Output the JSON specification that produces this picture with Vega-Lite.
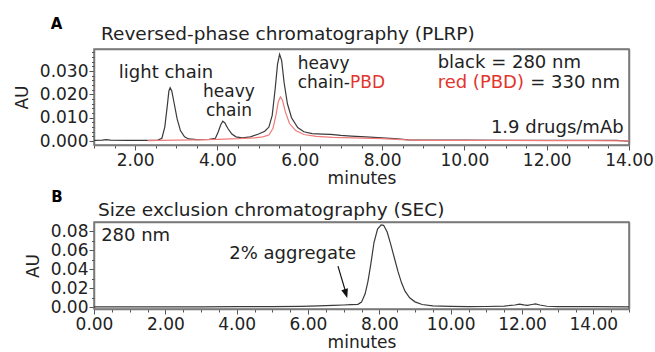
{
  "$schema": "https://vega.github.io/schema/vega-lite/v6.json",
  "padding": {"left": 12, "top": 16, "right": 0, "bottom": 0},
  "spacing": 2,
  "bounds": "full",
  "config": {
    "font": "DejaVu Sans",
    "view": {"stroke": "#7a7a7a", "strokeWidth": 1.5},
    "axis": {"grid": false, "domainColor": "#7a7a7a", "domainWidth": 1.5, "tickColor": "#555", "labelColor": "#222", "titleColor": "#222", "labelFontSize": 17, "titleFontSize": 17, "titleFontWeight": "normal", "labelFont": "DejaVu Sans", "titleFont": "DejaVu Sans", "labelOverlap": false, "labelFlush": false, "labelBound": false},
    "title": {"font": "DejaVu Sans", "fontSize": 18.5, "fontWeight": "normal", "anchor": "start", "color": "#222"},
    "text": {"font": "DejaVu Sans", "fontSize": 18, "color": "#222"}
  },
  "datasets": {
    "aBlack": [
      {"t": 1.0, "au": 0.0003}, {"t": 1.2, "au": 0.0004}, {"t": 1.3, "au": 0.0006}, {"t": 1.4, "au": 0.0004}, {"t": 1.8, "au": 0.0003},
      {"t": 2.3, "au": 0.0003}, {"t": 2.55, "au": 0.0004}, {"t": 2.65, "au": 0.0012}, {"t": 2.72, "au": 0.006}, {"t": 2.78, "au": 0.015},
      {"t": 2.82, "au": 0.0215}, {"t": 2.85, "au": 0.0229}, {"t": 2.89, "au": 0.0215}, {"t": 2.95, "au": 0.016}, {"t": 3.02, "au": 0.0095},
      {"t": 3.1, "au": 0.0045}, {"t": 3.2, "au": 0.0018}, {"t": 3.3, "au": 0.0009}, {"t": 3.5, "au": 0.0006}, {"t": 3.8, "au": 0.0007},
      {"t": 3.95, "au": 0.0012}, {"t": 4.02, "au": 0.004}, {"t": 4.08, "au": 0.007}, {"t": 4.13, "au": 0.0085}, {"t": 4.18, "au": 0.0078},
      {"t": 4.25, "au": 0.0055}, {"t": 4.35, "au": 0.003}, {"t": 4.45, "au": 0.0018}, {"t": 4.6, "au": 0.0014}, {"t": 4.8, "au": 0.0018},
      {"t": 5.0, "au": 0.003}, {"t": 5.15, "au": 0.0042}, {"t": 5.25, "au": 0.006}, {"t": 5.33, "au": 0.011}, {"t": 5.4, "au": 0.022},
      {"t": 5.46, "au": 0.033}, {"t": 5.51, "au": 0.0372}, {"t": 5.56, "au": 0.0345}, {"t": 5.62, "au": 0.025}, {"t": 5.7, "au": 0.016},
      {"t": 5.8, "au": 0.01}, {"t": 5.95, "au": 0.0058}, {"t": 6.1, "au": 0.004}, {"t": 6.3, "au": 0.0032}, {"t": 6.55, "au": 0.003},
      {"t": 6.75, "au": 0.0029}, {"t": 7.0, "au": 0.0024}, {"t": 7.25, "au": 0.0021}, {"t": 7.6, "au": 0.0018}, {"t": 8.0, "au": 0.0014},
      {"t": 8.3, "au": 0.001}, {"t": 8.65, "au": 0.0005}, {"t": 9.0, "au": 0.0004}, {"t": 10.0, "au": 0.0004}, {"t": 11.0, "au": 0.0003},
      {"t": 12.0, "au": 0.0003}, {"t": 13.0, "au": 0.0003}, {"t": 13.7, "au": 0.0003}, {"t": 14.0, "au": -0.0001}
    ],
    "aRed": [
      {"t": 2.3, "au": 0.0002}, {"t": 2.6, "au": 0.0003}, {"t": 3.0, "au": 0.0004}, {"t": 3.5, "au": 0.0005}, {"t": 4.0, "au": 0.0007},
      {"t": 4.5, "au": 0.001}, {"t": 4.9, "au": 0.0014}, {"t": 5.1, "au": 0.0018}, {"t": 5.25, "au": 0.0026}, {"t": 5.35, "au": 0.0055},
      {"t": 5.42, "au": 0.011}, {"t": 5.48, "au": 0.017}, {"t": 5.53, "au": 0.0189}, {"t": 5.58, "au": 0.0175}, {"t": 5.65, "au": 0.0125},
      {"t": 5.75, "au": 0.0075}, {"t": 5.9, "au": 0.0045}, {"t": 6.1, "au": 0.0028}, {"t": 6.4, "au": 0.002}, {"t": 6.8, "au": 0.0016},
      {"t": 7.3, "au": 0.0014}, {"t": 8.0, "au": 0.001}, {"t": 8.6, "au": 0.0005}, {"t": 9.0, "au": 0.0003}, {"t": 10.0, "au": 0.0003},
      {"t": 11.0, "au": 0.0003}, {"t": 12.0, "au": 0.0002}, {"t": 13.0, "au": 0.0002}, {"t": 14.0, "au": 0.0001}
    ],
    "aNotes": [
      {"t": 0.09, "au": 0.0502, "text": "A", "role": "letter"},
      {"t": 2.75, "au": 0.0292, "text": "light chain", "role": "center"},
      {"t": 4.28, "au": 0.0210, "text": "heavy\nchain", "role": "stack"},
      {"t": 5.95, "au": 0.0330, "text": "heavy\nchain-", "role": "stackleft"},
      {"t": 7.22, "au": 0.0251, "text": "PBD", "role": "red"},
      {"t": 9.35, "au": 0.0336, "text": "black = 280 nm", "role": "left"},
      {"t": 9.35, "au": 0.025, "text": "red (PBD)", "role": "redwide"},
      {"t": 11.6, "au": 0.025, "text": "= 330 nm", "role": "left"},
      {"t": 13.87, "au": 0.0055, "text": "1.9 drugs/mAb", "role": "right"}
    ],
    "bLine": [
      {"t": 0.0, "au": 0.0005}, {"t": 1.0, "au": 0.0005}, {"t": 2.0, "au": 0.0006}, {"t": 3.0, "au": 0.0006}, {"t": 4.0, "au": 0.0007},
      {"t": 5.0, "au": 0.0008}, {"t": 5.8, "au": 0.001}, {"t": 6.3, "au": 0.0015}, {"t": 6.7, "au": 0.0022}, {"t": 7.0, "au": 0.0025},
      {"t": 7.2, "au": 0.0028}, {"t": 7.4, "au": 0.0032}, {"t": 7.5, "au": 0.0055}, {"t": 7.6, "au": 0.014}, {"t": 7.68, "au": 0.027},
      {"t": 7.76, "au": 0.045}, {"t": 7.85, "au": 0.068}, {"t": 7.95, "au": 0.082}, {"t": 8.05, "au": 0.0865}, {"t": 8.12, "au": 0.086},
      {"t": 8.22, "au": 0.079}, {"t": 8.32, "au": 0.066}, {"t": 8.42, "au": 0.052}, {"t": 8.52, "au": 0.038}, {"t": 8.62, "au": 0.026},
      {"t": 8.72, "au": 0.017}, {"t": 8.85, "au": 0.01}, {"t": 9.0, "au": 0.0058}, {"t": 9.2, "au": 0.003}, {"t": 9.5, "au": 0.0016},
      {"t": 10.0, "au": 0.001}, {"t": 10.5, "au": 0.0008}, {"t": 11.0, "au": 0.0009}, {"t": 11.5, "au": 0.0013}, {"t": 11.8, "au": 0.0025},
      {"t": 11.93, "au": 0.0035}, {"t": 12.05, "au": 0.0026}, {"t": 12.15, "au": 0.0022}, {"t": 12.28, "au": 0.003}, {"t": 12.38, "au": 0.0036},
      {"t": 12.5, "au": 0.0025}, {"t": 12.7, "au": 0.0012}, {"t": 13.0, "au": 0.0008}, {"t": 14.0, "au": 0.0007}, {"t": 15.0, "au": 0.0006}
    ],
    "bArrow": [{"t": 6.84, "au": 0.0432, "t2": 7.07, "au2": 0.0144, "tipT": 7.1, "tipAu": 0.0099}],
    "bNotes": [
      {"t": -1.04, "au": 0.1155, "text": "B", "role": "letter"},
      {"t": 0.2, "au": 0.0747, "text": "280 nm", "role": "left"},
      {"t": 5.57, "au": 0.0555, "text": "2% aggregate", "role": "center"}
    ]
  },
  "vconcat": [
    {
      "width": 535,
      "height": 96,
      "view": {"stroke": "#7a7a7a", "strokeWidth": 1.5},
      "title": {"text": "Reversed-phase chromatography (PLRP)", "anchor": "start", "frame": "group", "dx": 7, "dy": 26, "offset": 0},
      "resolve": {"axis": {"x": "independent", "y": "independent"}},
      "layer": [
        {
          "data": {"name": "aBlack"},
          "mark": {"type": "line", "color": "#3a3a3a", "strokeWidth": 1.2},
          "encoding": {
            "x": {"field": "t", "type": "quantitative", "scale": {"domain": [1, 14], "nice": false, "zero": false},
              "axis": {"orient": "bottom", "title": "minutes", "values": [1,1.5,2,2.5,3,3.5,4,4.5,5,5.5,6,6.5,7,7.5,8,8.5,9,9.5,10,10.5,11,11.5,12,12.5,13,13.5,14],
                "labelExpr": "datum.value % 2 === 0 ? format(datum.value, '.2f') : ''",
                "tickSize": {"condition": {"test": "datum.value % 2 === 0", "value": 5}, "value": 3},
                "labelOverlap": false, "labelPadding": 2, "titlePadding": 2}},
            "y": {"field": "au", "type": "quantitative", "scale": {"domain": [-0.0017, 0.0395], "nice": false, "zero": false},
              "axis": {"orient": "left", "title": "AU", "values": [0, 0.01, 0.02, 0.03], "format": ".3f", "tickSize": 5,
                "labelPadding": 1, "titlePadding": 8}}
          }
        },
        {
          "data": {"name": "aRed"},
          "mark": {"type": "line", "color": "#f07a7a", "strokeWidth": 1.2},
          "encoding": {
            "x": {"field": "t", "type": "quantitative", "axis": {"orient": "top", "title": null, "labels": false, "ticks": false, "domain": true, "domainColor": "#7a7a7a", "domainWidth": 1.5, "domainOpacity": 1}},
            "y": {"field": "au", "type": "quantitative", "axis": {"orient": "right", "title": null, "labels": false, "ticks": false, "domain": true, "domainColor": "#7a7a7a", "domainWidth": 1.5, "domainOpacity": 1}}
          }
        },
        {
          "data": {"name": "aNotes"},
          "transform": [{"filter": "datum.role === 'center'"}],
          "mark": {"type": "text", "align": "center", "baseline": "middle"},
          "encoding": {
            "x": {"field": "t", "type": "quantitative", "axis": null},
            "y": {"field": "au", "type": "quantitative", "axis": {"orient": "left", "title": null, "labels": false, "domain": false, "tickSize": 2.5,
              "values": [0.002,0.004,0.006,0.008,0.012,0.014,0.016,0.018,0.022,0.024,0.026,0.028,0.032,0.034,0.036,0.038]}},
            "text": {"field": "text"}
          }
        },
        {
          "data": {"name": "aNotes"},
          "transform": [{"filter": "datum.role === 'stack'"}],
          "mark": {"type": "text", "align": "center", "baseline": "middle", "lineBreak": "\n", "lineHeight": 18.5, "fontSize": 17},
          "encoding": {"x": {"field": "t", "type": "quantitative", "axis": null}, "y": {"field": "au", "type": "quantitative", "axis": null}, "text": {"field": "text"}}
        },
        {
          "data": {"name": "aNotes"},
          "transform": [{"filter": "datum.role === 'stackleft'"}],
          "mark": {"type": "text", "align": "left", "baseline": "middle", "lineBreak": "\n", "lineHeight": 18.5, "fontSize": 17},
          "encoding": {"x": {"field": "t", "type": "quantitative", "axis": null}, "y": {"field": "au", "type": "quantitative", "axis": null}, "text": {"field": "text"}}
        },
        {
          "data": {"name": "aNotes"},
          "transform": [{"filter": "datum.role === 'left'"}],
          "mark": {"type": "text", "align": "left", "baseline": "middle"},
          "encoding": {"x": {"field": "t", "type": "quantitative", "axis": null}, "y": {"field": "au", "type": "quantitative", "axis": null}, "text": {"field": "text"}}
        },
        {
          "data": {"name": "aNotes"},
          "transform": [{"filter": "datum.role === 'red'"}],
          "mark": {"type": "text", "align": "left", "baseline": "middle", "color": "#e2352d", "fontSize": 17},
          "encoding": {"x": {"field": "t", "type": "quantitative", "axis": null}, "y": {"field": "au", "type": "quantitative", "axis": null}, "text": {"field": "text"}}
        },
        {
          "data": {"name": "aNotes"},
          "transform": [{"filter": "datum.role === 'redwide'"}],
          "mark": {"type": "text", "align": "left", "baseline": "middle", "color": "#e2352d"},
          "encoding": {"x": {"field": "t", "type": "quantitative", "axis": null}, "y": {"field": "au", "type": "quantitative", "axis": null}, "text": {"field": "text"}}
        },
        {
          "data": {"name": "aNotes"},
          "transform": [{"filter": "datum.role === 'right'"}],
          "mark": {"type": "text", "align": "right", "baseline": "middle"},
          "encoding": {"x": {"field": "t", "type": "quantitative", "axis": null}, "y": {"field": "au", "type": "quantitative", "axis": null}, "text": {"field": "text"}}
        },
        {
          "data": {"name": "aNotes"},
          "transform": [{"filter": "datum.role === 'letter'"}],
          "mark": {"type": "text", "align": "center", "baseline": "middle", "fontWeight": "bold", "fontSize": 15, "color": "#000"},
          "encoding": {"x": {"field": "t", "type": "quantitative", "axis": null}, "y": {"field": "au", "type": "quantitative", "axis": null}, "text": {"field": "text"}}
        }
      ]
    },
    {
      "width": 535,
      "height": 87,
      "view": {"stroke": "#7a7a7a", "strokeWidth": 1.5},
      "title": {"text": "Size exclusion chromatography (SEC)", "anchor": "start", "frame": "group", "dx": 4, "dy": 29, "offset": 0},
      "resolve": {"axis": {"x": "independent", "y": "independent"}},
      "layer": [
        {
          "data": {"name": "bLine"},
          "mark": {"type": "line", "color": "#3a3a3a", "strokeWidth": 1.2},
          "encoding": {
            "x": {"field": "t", "type": "quantitative", "scale": {"domain": [0, 15], "nice": false, "zero": false},
              "axis": {"orient": "bottom", "title": "minutes", "values": [0,0.5,1,1.5,2,2.5,3,3.5,4,4.5,5,5.5,6,6.5,7,7.5,8,8.5,9,9.5,10,10.5,11,11.5,12,12.5,13,13.5,14,14.5,15],
                "labelExpr": "datum.value % 2 === 0 ? format(datum.value, '.2f') : ''",
                "tickSize": {"condition": {"test": "datum.value % 2 === 0", "value": 5}, "value": 3},
                "labelOverlap": false, "labelPadding": 2, "titlePadding": 2}},
            "y": {"field": "au", "type": "quantitative", "scale": {"domain": [-0.0017, 0.0895], "nice": false, "zero": false},
              "axis": {"orient": "left", "title": "AU", "values": [0, 0.02, 0.04, 0.06, 0.08], "format": ".2f", "tickSize": 5,
                "labelPadding": 1, "titlePadding": 8}}
          }
        },
        {
          "data": {"name": "bArrow"},
          "mark": {"type": "rule", "color": "#111", "strokeWidth": 1.2},
          "encoding": {
            "x": {"field": "t", "type": "quantitative", "axis": {"orient": "top", "title": null, "labels": false, "ticks": false, "domain": true, "domainColor": "#7a7a7a", "domainWidth": 1.5, "domainOpacity": 1}},
            "y": {"field": "au", "type": "quantitative", "axis": {"orient": "right", "title": null, "labels": false, "ticks": false, "domain": true, "domainColor": "#7a7a7a", "domainWidth": 1.5, "domainOpacity": 1}},
            "x2": {"field": "t2"}, "y2": {"field": "au2"}
          }
        },
        {
          "data": {"name": "bArrow"},
          "mark": {"type": "point", "shape": "M0,0L-0.38,-1L0.38,-1Z", "filled": true, "color": "#111", "size": 324, "angle": 343, "opacity": 1},
          "encoding": {
            "x": {"field": "tipT", "type": "quantitative", "axis": null},
            "y": {"field": "tipAu", "type": "quantitative", "axis": {"orient": "left", "title": null, "labels": false, "domain": false, "tickSize": 2.5,
              "values": [0.01, 0.03, 0.05, 0.07]}}
          }
        },
        {
          "data": {"name": "bNotes"},
          "transform": [{"filter": "datum.role === 'center'"}],
          "mark": {"type": "text", "align": "center", "baseline": "middle"},
          "encoding": {"x": {"field": "t", "type": "quantitative", "axis": null}, "y": {"field": "au", "type": "quantitative", "axis": null}, "text": {"field": "text"}}
        },
        {
          "data": {"name": "bNotes"},
          "transform": [{"filter": "datum.role === 'left'"}],
          "mark": {"type": "text", "align": "left", "baseline": "middle"},
          "encoding": {"x": {"field": "t", "type": "quantitative", "axis": null}, "y": {"field": "au", "type": "quantitative", "axis": null}, "text": {"field": "text"}}
        },
        {
          "data": {"name": "bNotes"},
          "transform": [{"filter": "datum.role === 'letter'"}],
          "mark": {"type": "text", "align": "center", "baseline": "middle", "fontWeight": "bold", "fontSize": 15, "color": "#000"},
          "encoding": {"x": {"field": "t", "type": "quantitative", "axis": null}, "y": {"field": "au", "type": "quantitative", "axis": null}, "text": {"field": "text"}}
        }
      ]
    }
  ]
}
